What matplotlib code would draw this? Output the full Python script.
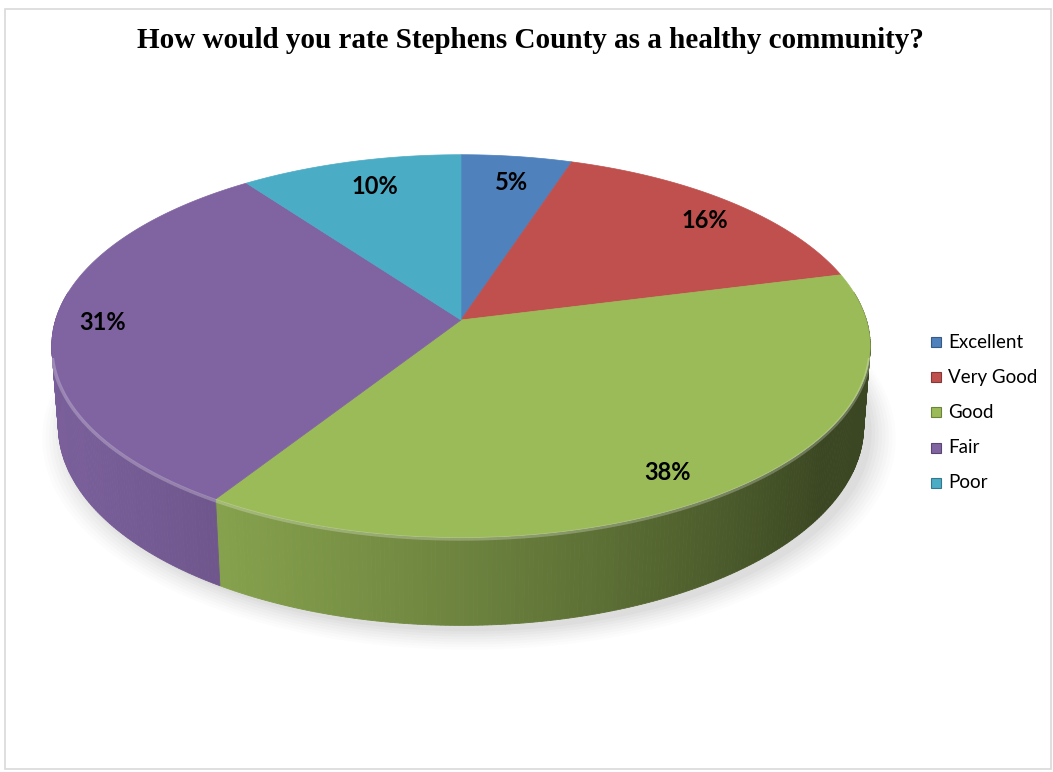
import numpy as np
import matplotlib.pyplot as plt
from matplotlib.patches import Polygon, Rectangle
from matplotlib.colors import to_rgb

# survey answers
categories = ['Excellent', 'Very Good', 'Good', 'Fair', 'Poor']
shares = [5, 16, 38, 31, 10]
colors = ['#4F81BD', '#C0504D', '#9BBB59', '#8064A2', '#4BACC6']
title = 'How would you rate Stephens County as a healthy community?'

# simple perspective camera for the 3d pie
elev = np.radians(27.6)
dist = 6.5
depth = 0.225
scale = 2635.0
cx, cy = 461.0, 320.0


def project(theta, z):
    # theta measured clockwise from 12 o'clock (far side of the disc)
    x = np.sin(theta)
    y = np.cos(theta)
    ce, se = np.cos(elev), np.sin(elev)
    ry = y + dist * ce
    rz = z - dist * se
    d = ry * ce - rz * se
    up = ry * se + rz * ce
    return cx + scale * x / d, cy - scale * up / d


def shade(rgb, f):
    return tuple(min(1, max(0, c * f)) for c in rgb)


fig = plt.figure(figsize=(10.53, 7.72), dpi=100)
ax = fig.add_axes([0, 0, 1, 1])
ax.set_xlim(0, 1053)
ax.set_ylim(772, 0)
ax.axis('off')

# chart frame
ax.add_patch(Rectangle((4.5, 8.5), 1046, 760, fill=False, ec='#d9d9d9', lw=1.2))

fracs = np.array(shares) / sum(shares)
bounds = np.concatenate([[0], np.cumsum(fracs)]) * 2 * np.pi

# soft shadow under the disc
t = np.linspace(0, 2 * np.pi, 300)
for k, a in zip(np.linspace(1.06, 1.0, 8), np.linspace(0.02, 0.05, 8)):
    sx, sy = project(t, -depth)
    sx = cx + 8 + (sx - cx) * k
    sy = cy + 6 + (sy - cy) * k
    ax.add_patch(Polygon(np.column_stack([sx, sy]), closed=True,
                         fc='#808080', ec='none', alpha=a, zorder=1))

# side wall, drawn in small strips with shading along the rim
light = np.array([-1.0, -0.3]) / np.hypot(1.0, 0.3)
for i, (a0, a1) in enumerate(zip(bounds[:-1], bounds[1:])):
    base = to_rgb(colors[i])
    n = max(2, int((a1 - a0) / 0.01))
    ts = np.linspace(a0, a1, n + 1)
    for s0, s1 in zip(ts[:-1], ts[1:]):
        m = 0.5 * (s0 + s1)
        if np.cos(m) > 0.15:
            continue
        nrm = np.array([np.sin(m), np.cos(m)])
        f = max(0.38, 0.6 + 0.35 * nrm @ light)
        x0, y0 = project(s0, 0)
        x1, y1 = project(s1, 0)
        x2, y2 = project(s1, -depth)
        x3, y3 = project(s0, -depth)
        ax.add_patch(Polygon([[x0, y0], [x1, y1], [x2, y2], [x3, y3]],
                             closed=True, fc=shade(base, f), ec=shade(base, f),
                             lw=0.6, zorder=2))

# top face
for i, (a0, a1) in enumerate(zip(bounds[:-1], bounds[1:])):
    ts = np.linspace(a0, a1, 200)
    px, py = project(ts, 0)
    pts = np.column_stack([np.r_[cx, px], np.r_[cy, py]])
    ax.add_patch(Polygon(pts, closed=True, fc=colors[i], ec=colors[i],
                         lw=0.5, zorder=3))

# bevel highlight on the front edge
tf = np.linspace(np.pi / 2 + 0.2, 3 * np.pi / 2 - 0.2, 300)
hx, hy = project(tf, 0)
ax.plot(hx, hy + 1.5, color='white', alpha=0.25, lw=2.5, zorder=4)

# percentage labels
label_pos = [(512, 183), (705, 220), (668, 473), (103, 323), (375, 186)]
for v, (lx, ly) in zip(shares, label_pos):
    ax.text(lx, ly, f'{v}%', ha='center', va='center', fontsize=17,
            fontweight='bold', family='Lato', color='black', zorder=5)

ax.text(530, 40, title, ha='center', va='center', fontsize=21,
        fontweight='bold', family='Liberation Serif', color='black')

# legend
for k, (name, c) in enumerate(zip(categories, colors)):
    yk = 342 + k * 35.2
    ax.add_patch(Rectangle((931, yk - 5), 10, 10, fc=c, ec=shade(to_rgb(c), 0.7),
                           lw=0.8, zorder=5))
    ax.text(948, yk, name, ha='left', va='center', fontsize=13.5,
            family='Lato', color='black')

fig.savefig('out.png', dpi=100)
